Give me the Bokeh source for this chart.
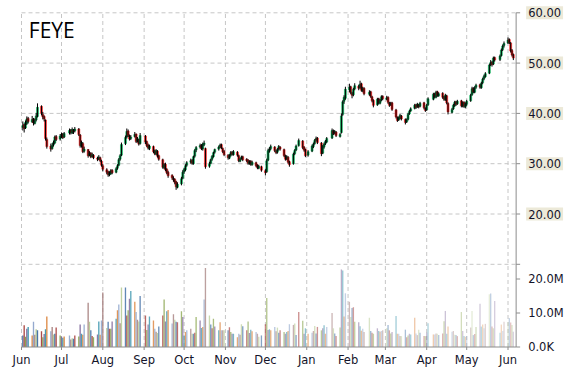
import numpy as np
import pandas as pd
from bokeh.plotting import figure
from bokeh.models import Range1d, Label, ColumnDataSource
from bokeh.embed import file_html
from bokeh.resources import INLINE

symbol = "FEYE"
holidays = ["2014-07-04", "2014-09-01", "2014-11-27", "2014-12-25", "2015-01-01",
            "2015-01-19", "2015-02-16", "2015-04-03", "2015-05-25"]
month_ticks = pd.date_range("2014-06-01", "2015-06-01", freq="MS")
price_ticks = [10, 20, 30, 40, 50, 60]
price_labels = [20, 30, 40, 50, 60]
volume_ticks_m = [0, 10, 20]
volume_labels = ["0.0K", "10.0M", "20.0M"]

opens = [
    37.2,37.8,37.1,38.0,39.0,38.3,38.9,38.0,38.7,39.4,41.4,39.8,39.4,38.7,34.8,33.5,33.0,33.7,34.1,35.4,34.9,
    35.6,35.9,35.3,36.1,36.7,36.1,36.6,36.5,36.9,35.7,33.5,34.0,32.5,32.8,31.7,32.1,31.4,31.7,31.1,30.9,31.2,30.5,
    29.6,28.8,28.4,27.8,28.0,28.7,28.3,29.1,29.7,30.9,31.7,34.0,35.3,36.5,35.5,35.0,35.4,35.9,34.5,34.8,34.0,
    35.5,34.4,33.7,33.0,33.4,32.5,31.9,32.5,31.6,30.8,29.2,29.9,28.9,28.3,27.7,27.1,26.9,26.4,25.3,26.0,27.1,
    28.4,28.8,29.7,30.3,30.7,30.0,31.5,32.7,33.3,33.7,32.9,33.8,33.0,29.5,30.1,30.9,31.4,32.3,32.9,33.4,33.8,33.0,32.5,
    31.7,31.1,31.7,32.3,31.8,32.3,31.6,30.5,31.0,31.4,30.9,30.7,30.0,30.5,29.8,30.2,29.7,29.1,29.4,
    28.6,28.4,30.7,32.5,33.0,33.3,32.5,32.3,32.9,33.3,32.8,31.5,31.0,31.3,30.4,30.0,32.0,32.7,33.6,34.5,33.3,32.8,
    31.7,32.5,33.4,34.0,34.7,35.1,34.1,32.1,33.3,34.0,34.3,35.1,36.5,36.1,36.3,35.4,36.2,39.8,42.4,43.0,
    44.7,45.3,44.0,43.7,44.9,45.4,45.1,45.9,44.5,45.0,43.8,44.3,43.3,42.6,41.7,42.9,42.0,42.7,43.4,
    42.8,43.2,42.1,41.7,42.1,40.7,39.2,38.7,39.0,39.5,38.8,38.3,38.8,39.9,40.5,41.0,41.7,41.3,41.7,41.4,42.1,41.0,
    40.7,41.7,42.8,43.9,43.2,44.3,43.5,44.0,43.3,42.7,43.5,42.0,40.2,40.9,41.5,42.3,41.9,42.5,41.4,42.2,41.3,
    41.8,42.5,43.7,45.0,44.2,45.2,45.7,45.1,46.1,46.9,47.3,48.0,49.7,50.2,49.8,51.1,50.7,51.5,52.7,53.5,
    54.0,54.7,54.0,52.5,51.7,
]
highs = [
    38.4,38.0,38.6,39.4,39.3,39.5,39.1,39.0,40.1,42.0,41.6,40.3,39.6,38.8,35.2,34.0,34.1,34.6,35.6,35.7,35.9,
    36.2,36.1,36.3,37.0,36.9,37.2,36.9,37.3,37.1,35.9,34.6,34.3,33.4,32.9,32.5,32.3,32.2,31.9,31.4,31.7,31.4,30.8,
    29.9,29.1,28.6,28.5,28.9,28.9,29.3,29.9,31.1,31.9,34.2,35.6,37.0,36.8,35.8,35.7,36.3,36.0,35.3,35.0,36.1,
    35.7,34.6,34.0,33.8,33.6,32.8,32.9,32.7,31.8,31.0,30.1,30.2,29.1,28.6,27.9,27.5,27.1,26.6,26.3,27.4,28.7,
    29.2,29.9,30.5,31.0,30.9,31.6,32.9,33.5,34.0,33.9,34.2,34.6,33.2,30.4,31.0,31.7,32.4,33.0,33.6,34.0,34.0,33.2,32.7,
    31.9,31.9,32.5,32.5,32.7,32.5,31.8,31.2,31.6,31.6,31.1,30.9,30.7,30.7,30.6,30.4,29.9,29.8,29.6,
    28.9,31.0,33.0,33.3,33.8,33.5,32.8,33.1,33.7,33.5,33.0,31.8,31.7,31.5,30.6,32.2,32.9,33.8,35.0,34.7,33.5,33.0,
    32.7,33.8,34.2,34.9,35.4,35.3,34.3,33.7,34.2,34.7,35.3,37.0,36.8,36.7,36.5,36.1,40.0,42.6,43.6,45.3,
    45.9,45.5,44.3,45.1,46.0,45.7,46.5,46.1,45.3,45.2,44.6,44.5,43.5,42.8,43.1,43.1,42.9,43.6,43.6,
    43.5,43.4,42.3,42.3,42.3,40.9,39.4,39.4,39.9,39.7,39.0,39.0,40.1,40.7,41.2,41.9,41.9,42.1,41.9,42.3,42.3,41.2,
    41.9,43.2,44.1,44.1,44.5,44.5,44.2,44.2,43.5,43.9,43.7,42.2,41.1,41.9,42.5,42.5,42.7,42.7,42.4,42.4,42.2,
    42.7,43.9,45.3,45.2,45.4,45.9,45.9,46.3,47.1,47.7,48.2,49.9,50.6,50.4,51.3,51.3,51.7,52.9,53.7,54.3,
    55.1,54.9,54.2,52.8,51.9,
]
lows = [
    36.6,36.2,36.9,37.7,38.0,38.1,37.6,37.8,38.4,39.2,39.6,38.8,38.4,34.6,33.0,32.4,32.8,33.4,33.9,34.5,34.6,
    35.1,34.9,35.1,35.8,35.8,35.9,35.9,36.2,35.5,33.2,33.2,32.1,32.2,31.2,31.5,31.1,31.2,30.9,30.5,30.7,30.3,29.4,
    28.5,27.9,27.4,27.5,27.8,27.9,28.1,28.8,29.5,30.6,31.5,33.7,35.0,35.3,34.6,34.7,35.2,34.1,34.2,33.6,33.8,
    33.9,33.3,32.8,32.7,32.1,31.7,31.7,31.2,30.6,29.0,28.9,28.5,27.9,27.2,26.8,26.4,25.9,24.8,25.1,25.7,26.9,
    28.0,28.5,29.4,30.0,29.8,29.8,31.2,32.3,33.0,32.7,32.6,33.5,29.0,29.2,29.9,30.6,31.2,32.0,32.6,33.1,32.9,32.1,31.5,
    30.8,30.9,31.4,31.6,31.6,31.4,30.3,30.3,30.8,30.5,30.3,29.8,29.8,29.6,29.6,29.3,28.9,28.9,28.4,
    27.7,28.2,30.5,32.2,32.7,32.3,31.9,32.0,32.6,32.6,31.3,30.6,30.7,30.0,29.4,29.8,31.7,32.5,33.4,32.9,32.4,31.3,
    31.4,32.3,33.1,33.8,34.4,33.9,31.5,31.9,33.0,33.7,34.1,34.9,35.7,35.8,35.3,35.2,36.0,39.5,41.9,42.7,
    44.2,43.8,43.0,43.4,44.6,44.6,44.9,44.3,44.2,43.6,43.5,43.1,42.2,41.2,41.5,41.8,41.8,42.4,42.6,
    42.6,41.9,41.3,41.5,40.5,39.0,38.3,38.5,38.8,38.6,37.8,38.1,38.6,39.7,40.3,40.8,40.9,41.1,41.0,41.2,40.8,40.3,
    40.5,41.5,42.6,43.0,43.0,43.3,43.3,42.9,42.5,42.5,41.8,39.8,40.0,40.7,41.3,41.5,41.7,41.2,41.2,41.1,41.0,
    41.5,42.3,43.5,44.0,44.0,44.9,44.9,44.9,45.8,46.6,47.1,47.8,49.4,49.3,49.6,50.3,50.4,51.3,52.4,53.1,
    53.8,53.8,52.1,51.3,50.6,
]
closes = [
    37.6,37.0,38.2,38.9,38.4,38.8,38.1,38.6,39.5,41.2,40.0,39.3,38.9,35.0,33.4,32.9,33.6,34.2,35.3,34.8,35.5,
    35.8,35.2,36.0,36.6,36.2,36.8,36.4,36.9,35.8,33.6,34.2,32.4,32.9,31.6,32.0,31.4,31.8,31.2,30.9,31.3,30.6,29.7,
    28.9,28.3,27.8,28.1,28.6,28.2,29.0,29.6,30.8,31.6,33.8,35.2,36.4,35.6,34.9,35.3,35.8,34.4,34.9,33.9,35.6,
    34.3,33.6,33.1,33.5,32.4,32.0,32.6,31.5,30.9,29.3,29.8,28.8,28.2,27.6,27.2,26.8,26.3,25.4,25.9,27.0,28.3,
    28.9,29.6,30.2,30.6,30.1,31.4,32.6,33.2,33.6,33.0,33.9,34.1,29.4,30.0,30.8,31.5,32.2,32.8,33.3,33.7,33.1,32.4,31.8,
    31.2,31.6,32.2,31.9,32.4,31.7,30.6,30.9,31.3,30.8,30.6,30.1,30.4,29.9,30.3,29.6,29.2,29.5,28.7,
    28.2,30.6,32.6,32.9,33.4,32.6,32.2,32.8,33.4,32.9,31.6,30.9,31.4,30.3,29.8,31.9,32.6,33.5,34.6,33.2,32.7,31.6,
    32.4,33.5,33.9,34.6,35.0,34.2,32.0,33.4,33.9,34.4,35.0,36.6,36.0,36.4,35.6,35.8,39.5,42.3,43.2,44.8,
    45.2,44.1,43.6,44.8,45.5,45.0,45.8,44.6,44.9,43.9,44.2,43.4,42.5,41.6,42.8,42.1,42.6,43.3,42.9,
    43.1,42.2,41.6,42.0,40.8,39.3,38.6,39.1,39.6,38.9,38.2,38.7,39.8,40.4,40.9,41.6,41.2,41.8,41.3,42.0,41.1,40.6,
    41.6,42.9,43.8,43.3,44.2,43.6,43.9,43.2,42.8,43.6,42.1,40.3,40.8,41.6,42.2,41.8,42.4,41.5,42.1,41.4,41.9,
    42.4,43.6,44.9,44.3,45.1,45.6,45.2,46.0,46.8,47.4,47.9,49.6,50.1,49.7,51.0,50.6,51.4,52.6,53.4,53.9,
    54.6,54.1,52.4,51.6,51.0,
]
volumes_m = [
    3.4,6.4,3.0,5.4,5.9,3.4,7.4,3.6,5.2,4.9,4.6,2.9,3.8,5.2,9.0,4.6,5.9,3.7,3.9,5.7,3.4,
    3.1,2.7,3.1,3.4,2.2,2.6,2.4,3.4,3.1,6.6,3.9,3.6,6.6,13.0,7.4,4.9,3.2,2.9,3.7,7.5,3.6,7.8,
    16.0,5.6,7.4,5.4,5.4,7.5,8.3,10.8,12.5,7.0,17.5,17.5,9.3,10.8,14.2,16.5,13.3,10.3,8.0,7.5,15.0,
    9.3,5.0,6.6,9.0,7.8,5.4,4.5,4.1,6.0,9.3,14.0,7.5,10.5,10.9,6.9,9.6,8.0,7.4,7.3,10.5,8.8,
    3.4,4.4,4.9,5.4,3.9,3.9,4.2,8.8,7.8,5.6,5.9,14.0,23.2,9.3,6.6,5.5,8.3,6.0,4.9,7.3,4.9,4.9,4.9,
    4.9,5.8,4.4,3.9,3.9,2.9,3.9,3.6,6.7,6.1,4.9,7.5,4.1,5.1,4.6,4.4,3.9,3.0,3.4,
    6.7,14.4,5.0,5.2,4.9,5.9,4.6,5.7,4.2,4.9,4.4,3.9,4.4,4.7,6.7,6.5,6.9,3.5,10.3,7.7,3.9,5.5,
    3.9,4.2,4.7,6.2,4.0,5.9,4.9,5.5,6.4,3.9,5.9,10.0,5.5,4.0,3.2,5.7,22.8,22.5,9.0,15.8,
    13.3,8.8,11.5,11.7,7.4,7.3,6.1,4.8,5.4,4.4,8.6,4.7,4.2,3.9,5.5,4.7,4.5,4.7,4.9,
    5.5,6.5,4.9,4.0,4.4,9.1,3.9,3.9,3.2,3.2,5.1,2.9,3.4,3.9,3.7,8.6,4.0,3.5,5.1,4.2,3.2,3.2,
    4.2,7.0,3.7,3.7,4.0,3.9,3.5,4.0,7.6,10.6,3.9,6.0,4.5,4.7,3.6,3.5,3.2,10.3,4.7,3.2,3.0,
    3.2,5.7,10.6,3.5,3.8,5.9,12.7,6.0,6.6,5.5,6.8,15.5,15.7,6.0,5.5,13.5,4.2,6.6,4.7,7.4,
    7.3,8.5,7.2,6.5,4.5,
]

# ---------------------------------------------------------------- build
dates = pd.bdate_range("2014-06-02", "2015-06-05")
dates = dates[~dates.isin(pd.to_datetime(holidays))]
n = min(len(dates), len(opens), len(highs), len(lows), len(closes), len(volumes_m))

DAY = 86400000.0
x_ms = dates[:n].values.astype("datetime64[ms]").astype(np.int64).astype(float)
o = np.array(opens[:n]); h = np.array(highs[:n]); l = np.array(lows[:n]); c = np.array(closes[:n])
vol = np.array(volumes_m[:n]) * 1e6

up = c >= o
body_col = np.where(up, "#00a651", "#ee1c1c")

palette = ['#4572A7', '#AA4643', '#89A54E', '#80699B', '#3D96AE', '#DB843D',
           '#92A8CD', '#A47D7C', '#B5CA92']
vcols = [palette[i % len(palette)] for i in range(n)]
valpha = np.linspace(1.0, 0.3, n)

src = ColumnDataSource(dict(x=x_ms, o=o, h=h, l=l, c=c,
                            top=np.maximum(o, c), bottom=np.minimum(o, c),
                            col=body_col, vol=vol, vcol=vcols, valpha=valpha))

# geometry: the frame fills the whole 570x370 canvas; axes are drawn by hand
W, H = 570, 370
PX_PER_DAY = 1.3329
LEFT_PX = 21.0
x0 = pd.Timestamp("2014-06-01").value / 1e6
x_start = x0 - LEFT_PX / PX_PER_DAY * DAY
x_end = x_start + W / PX_PER_DAY * DAY
x_axis = x0 + 371.1 * DAY          # right axis line position
PX_PER_USD = 5.03
Y60_PX = 12.3
ymax = 60 + Y60_PX / PX_PER_USD
ymin = 60 - (H - Y60_PX) / PX_PER_USD
PX_PER_MVOL = 3.4
V0_PX = 346.5
vmin = -(H - V0_PX) / PX_PER_MVOL * 1e6
vmax = V0_PX / PX_PER_MVOL * 1e6
price_floor = 60 - (V0_PX - Y60_PX) / PX_PER_USD   # price value at the bottom axis line
axis_col = "#8c8c8c"
txt_col = "#14142a"

p = figure(x_range=Range1d(x_start, x_end), y_range=Range1d(ymin, ymax),
           frame_width=W, frame_height=H, output_backend="svg", toolbar_location=None,
           x_axis_location=None, y_axis_location=None, min_border=0,
           outline_line_color=None, background_fill_color="white", border_fill_color="white")
p.extra_y_ranges = {"vol": Range1d(vmin, vmax)}
p.grid.visible = False

month_ms = [t.value / 1e6 for t in month_ticks]
nm = len(month_ms)
gstyle = dict(line_color="#c6c6c6", line_dash="4 3", line_width=1, level="underlay")
# vertical grid lines (month starts)
p.segment(x0=month_ms, x1=month_ms, y0=[price_floor] * nm, y1=[60] * nm, **gstyle)
# horizontal grid lines (price)
p.segment(x0=[x0] * len(price_ticks), x1=[x_axis] * len(price_ticks),
          y0=price_ticks, y1=price_ticks, **gstyle)

# volume bars
p.vbar(x="x", top="vol", bottom=0, width=DAY * 1.0, y_range_name="vol", source=src,
       fill_color="vcol", fill_alpha="valpha", line_color=None)

# candles
p.vbar(x="x", top="top", bottom="bottom", width=DAY * 1.5, source=src,
       fill_color="col", line_color="col", line_width=0.5)
p.segment(x0="x", y0="l", x1="x", y1="h", source=src, line_color="black", line_width=1)

# bottom axis line, month ticks and labels
p.segment(x0=[x0], x1=[x_axis], y0=[0], y1=[0], y_range_name="vol",
          line_color=axis_col, line_width=1)
mtick = 3 / PX_PER_MVOL * 1e6
p.segment(x0=month_ms, x1=month_ms, y0=[0] * nm, y1=[-mtick] * nm, y_range_name="vol",
          line_color=axis_col, line_width=1)
for t, ms in zip(month_ticks, month_ms):
    p.add_layout(Label(x=ms, y=0, y_range_name="vol", y_offset=-6, text=t.strftime("%b"),
                       text_align="center", text_baseline="top", text_font="DejaVu Sans",
                       text_font_size="11.5px", text_color=txt_col))

# right axis line and tick marks
p.segment(x0=[x_axis], x1=[x_axis], y0=[price_floor], y1=[60], line_color=axis_col, line_width=1)
tick_len = 3.0 * DAY
p.segment(x0=[x_axis] * len(price_ticks), x1=[x_axis + tick_len] * len(price_ticks),
          y0=price_ticks, y1=price_ticks, line_color=axis_col, line_width=1)
vt = [v * 1e6 for v in volume_ticks_m]
p.segment(x0=[x_axis] * len(vt), x1=[x_axis + tick_len] * len(vt), y0=vt, y1=vt,
          y_range_name="vol", line_color=axis_col, line_width=1)

# price labels with beige boxes
for pv in price_labels:
    p.add_layout(Label(x=x_axis, y=pv, x_offset=10, text=f"{pv:.2f}", text_align="left",
                       text_baseline="middle", text_font="DejaVu Sans", text_font_size="11.5px",
                       text_color=txt_col, background_fill_color="#ece9d8", padding=2))
# volume labels
for v, lab in zip(volume_ticks_m, volume_labels):
    p.add_layout(Label(x=x_axis, y=v * 1e6, y_range_name="vol", x_offset=12, text=lab,
                       text_align="left", text_baseline="middle", text_font="DejaVu Sans",
                       text_font_size="11.5px", text_color=txt_col))

# title
p.add_layout(Label(x=x0 + 5.5 * DAY, y=56.5, text=symbol, text_font="Open Sans",
                   text_font_size="21px", text_baseline="alphabetic", text_color="black"))

open("out.html", "w").write(file_html(p, INLINE, title="FEYE"))
